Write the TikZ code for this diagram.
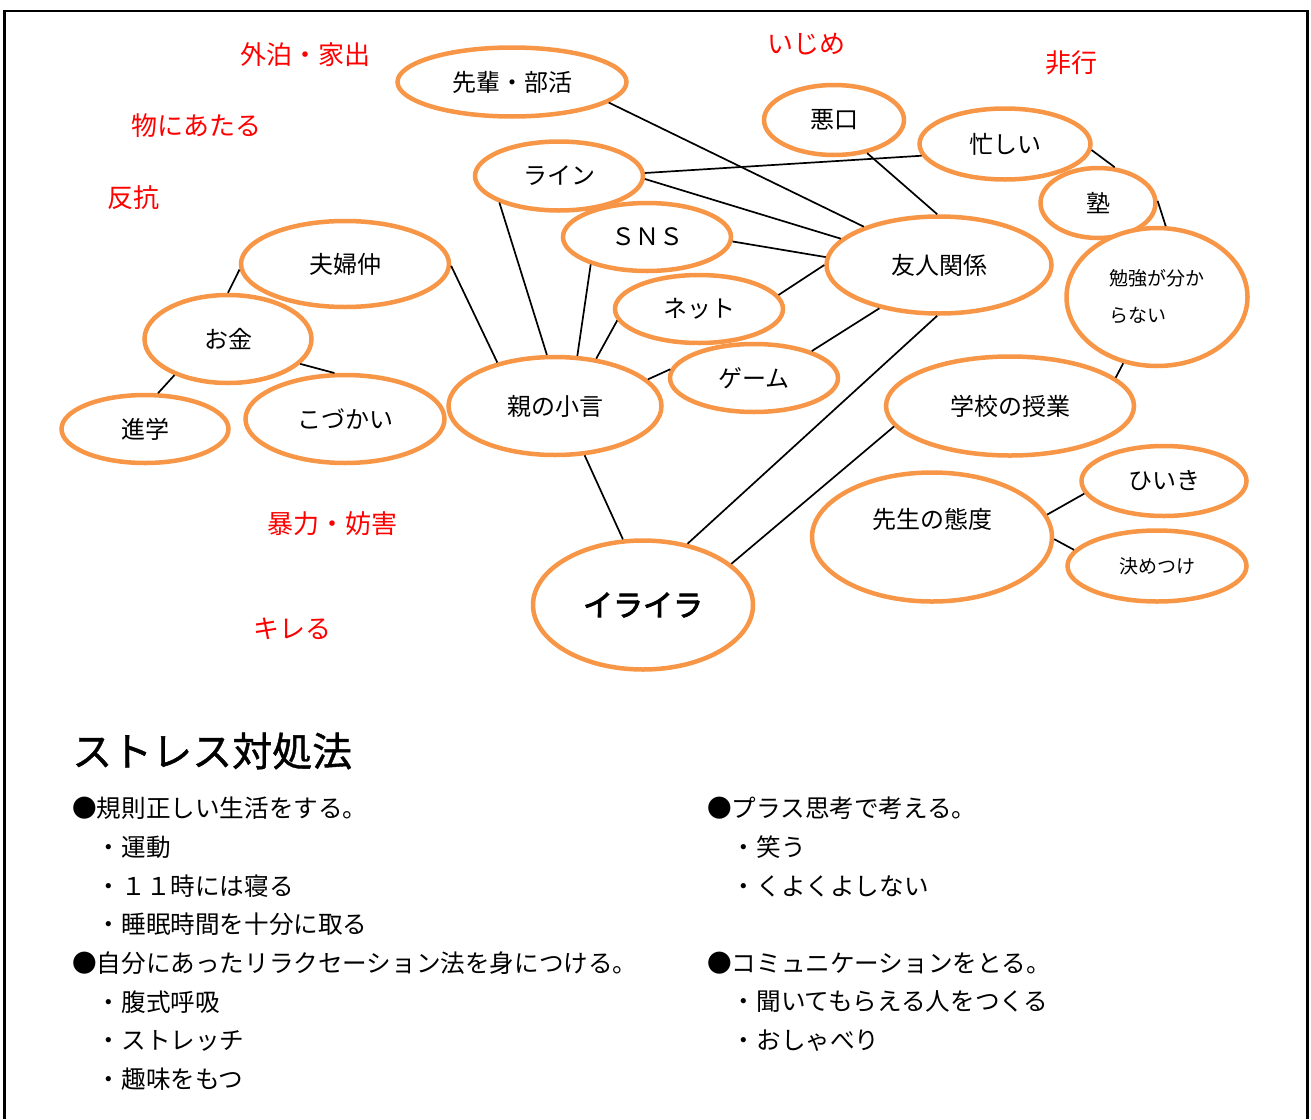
\documentclass[tikz,border=0pt]{standalone}
\usepackage{fontspec}
\setmainfont{Noto Sans CJK JP}
\newfontfamily\heavyjp[FakeBold=3]{Noto Sans CJK JP}
\newfontfamily\headjp[FakeBold=1]{Noto Sans CJK JP}
\usetikzlibrary{shapes.geometric}
\definecolor{bubbleorange}{HTML}{F79646}
\definecolor{labelred}{HTML}{FF0000}
\tikzset{
  bubble/.style={ellipse, draw=bubbleorange, line width=4.5pt, inner sep=0pt, fill=white,
    font=\fontsize{24}{28}\selectfont},
  link/.style={draw=black, line width=1.7pt},
  redlabel/.style={text=labelred, inner sep=0pt, font=\fontsize{26}{30}\selectfont},
  bodyline/.style={anchor=west, inner sep=0pt, font=\fontsize{24.6}{28}\selectfont},
}
\begin{document}
\begin{tikzpicture}[x=1pt, y=-1pt]
\useasboundingbox (0,0) rectangle (1311,1119);
\draw[line width=2.5pt] (4.5,1119) -- (4.5,11) -- (1307.5,11) -- (1307.5,1119);

% red labels
\node[redlabel] (r1) at (305,55) {外泊・家出};
\node[redlabel] (r2) at (196,126) {物にあたる};
\node[redlabel] (r3) at (133,198) {反抗};
\node[redlabel] (r4) at (806,44) {いじめ};
\node[redlabel] (r5) at (1071,63) {非行};
\node[redlabel] (r6) at (332,524) {暴力・妨害};
\node[redlabel] (r7) at (292,629) {キレる};

% bubbles
\node[bubble, minimum width=229, minimum height=69] (senpai) at (512,82) {先輩・部活};
\node[bubble, minimum width=168, minimum height=69] (line) at (559,176) {ライン};
\node[bubble, minimum width=168, minimum height=68] (sns) at (647,237) {ＳＮＳ};
\node[bubble, minimum width=168, minimum height=68] (net) at (699,309) {ネット};
\node[bubble, minimum width=168, minimum height=68] (game) at (754,378) {ゲーム};
\node[bubble, minimum width=213, minimum height=98] (oya) at (555,406) {親の小言};
\node[bubble, minimum width=208, minimum height=86] (fufu) at (345,264) {夫婦仲};
\node[bubble, minimum width=167, minimum height=88] (okane) at (228,339) {お金};
\node[bubble, minimum width=167, minimum height=68] (shingaku) at (145,429) {進学};
\node[bubble, minimum width=199, minimum height=88] (kozukai) at (345,419) {こづかい};
\node[bubble, minimum width=140, minimum height=70] (waruguchi) at (834,120) {悪口};
\node[bubble, minimum width=171, minimum height=71] (isogashii) at (1005,144) {忙しい};
\node[bubble, minimum width=115, minimum height=70] (juku) at (1098,203) {塾};
\node[bubble, minimum width=181, minimum height=138, align=left,
      font=\fontsize{19}{37}\selectfont] (benkyo) at (1157,297) {勉強が分か\\らない};
\node[bubble, minimum width=225, minimum height=97] (yujin) at (939,265) {友人関係};
\node[bubble, minimum width=248, minimum height=99] (gakko) at (1010,406) {学校の授業};
\node[bubble, minimum width=240, minimum height=129] (sensei) at (932,537)
      {\raisebox{9pt}[0pt][0pt]{先生の態度}};
\node[bubble, minimum width=165, minimum height=70] (hiiki) at (1164,481) {ひいき};
\node[bubble, minimum width=179, minimum height=71, font=\fontsize{19}{22}\selectfont]
      (kimetsuke) at (1157,566) {決めつけ};
\node[bubble, minimum width=220, minimum height=129, font=\heavyjp\fontsize{30}{34}\selectfont]
      (iraira) at (643,605) {イライラ};

% connectors
\draw[link] (senpai.-12.6) -- (yujin.153);
\draw[link] (line.2.6) -- (isogashii.188.7);
\draw[link] (line.-2.6) -- (yujin.165);
\draw[link] (sns.-3.9) -- (yujin.176.5);
\draw[link] (net.10.5) -- (yujin.180);
\draw[link] (game.25) -- (yujin.216);
\draw[link] (waruguchi.-45) -- (yujin.92);
\draw[link] (isogashii.-4) -- (juku.65);
\draw[link] (juku.2) -- (benkyo.83);
\draw[link] (benkyo.243) -- (gakko.15.6);
\draw[link] (yujin.268) -- (iraira.54);
\draw[link] (gakko.190) -- (iraira.25);
\draw[link] (oya.-59.4) -- (iraira.107.6);
\draw[link] (oya.99) -- (line.204.5);
\draw[link] (oya.66) -- (sns.206);
\draw[link] (oya.49.4) -- (net.188);
\draw[link] (oya.16) -- (game.174.6);
\draw[link] (oya.143.6) -- (fufu.-1.5);
\draw[link] (fufu.183) -- (okane.90);
\draw[link] (okane.-19) -- (kozukai.103);
\draw[link] (okane.214) -- (shingaku.70.6);
\draw[link] (sensei.11) -- (hiiki.189);
\draw[link] (sensei.-1.6) -- (kimetsuke.169);

% stress coping section
\node[anchor=west, inner sep=0pt, font=\headjp\fontsize{40}{44}\selectfont] (head) at (72,751) {ストレス対処法};

\node[bodyline] (a1) at (72,808) {●規則正しい生活をする。};
\node[bodyline] (a2) at (72,847) {　・運動};
\node[bodyline] (a3) at (72,886) {　・１１時には寝る};
\node[bodyline] (a4) at (72,924) {　・睡眠時間を十分に取る};
\node[bodyline] (a5) at (72,963) {●自分にあったリラクセーション法を身につける。};
\node[bodyline] (a6) at (72,1002) {　・腹式呼吸};
\node[bodyline] (a7) at (72,1041) {　・ストレッチ};
\node[bodyline] (a8) at (72,1079) {　・趣味をもつ};

\node[bodyline] (b1) at (707,808) {●プラス思考で考える。};
\node[bodyline] (b2) at (707,847) {　・笑う};
\node[bodyline] (b3) at (707,886) {　・くよくよしない};
\node[bodyline] (b4) at (707,963) {●コミュニケーションをとる。};
\node[bodyline] (b5) at (707,1002) {　・聞いてもらえる人をつくる};
\node[bodyline] (b6) at (707,1041) {　・おしゃべり};
\end{tikzpicture}
\end{document}
